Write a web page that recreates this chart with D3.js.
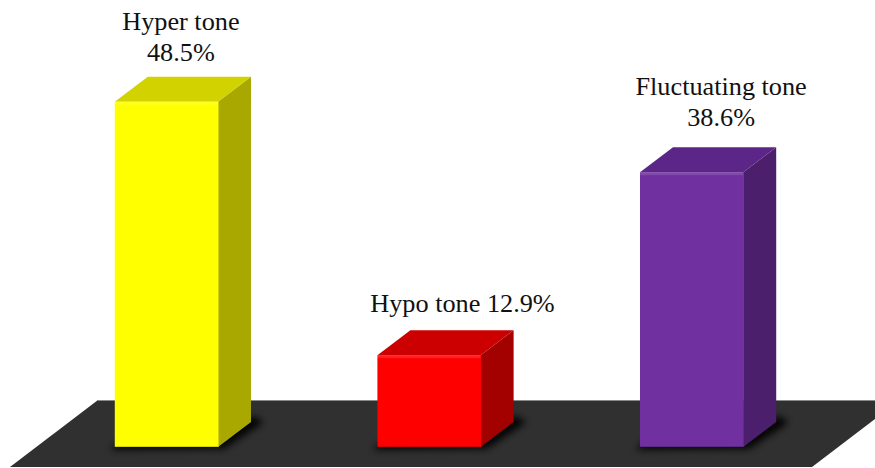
<!DOCTYPE html>
<html>
<head>
<meta charset="utf-8">
<script src="https://cdn.jsdelivr.net/npm/d3@7/dist/d3.min.js"></script>
<style>
  html, body { margin: 0; padding: 0; background: #fff; }
  svg { display: block; }
</style>
</head>
<body>
<div id="chart-area"></div>
<script>
// data
var categories = ['Hyper tone', 'Hypo tone', 'Fluctuating tone'];
var values = [48.5, 12.9, 38.6];
var labelLines = [['Hyper tone', '48.5%'], ['Hypo tone 12.9%'], ['Fluctuating tone', '38.6%']];

// colours: front, top, side
var frontColors = ['#ffff00', '#ff0000', '#7030a0'];
var topColors = ['#d2d200', '#cc0000', '#5b2688'];
var sideColors = ['#a8a800', '#a30000', '#4b1f6c'];

// label nudges (original labels were hand placed)
var labelDx = [-2, 17, 13];
var labelDy = [2, 0, -3];

var svgWidth = 875;
var svgHeight = 468;
var depthX = 33;
var depthY = 25;

var svg = d3.select('#chart-area')
  .append('svg')
  .attr('width', svgWidth)
  .attr('height', svgHeight);

var defs = svg.append('defs');
defs.append('filter')
  .attr('id', 'blur')
  .attr('x', '-50%').attr('y', '-50%')
  .attr('width', '200%').attr('height', '200%')
  .append('feGaussianBlur')
  .attr('stdDeviation', 3.5);

var xScale = d3.scaleBand()
  .domain(categories)
  .range([36, 822])
  .paddingInner(0.607)
  .paddingOuter(0.3);

var yScale = d3.scaleLinear()
  .domain([0, 50])
  .range([447, 91]);

var bw = xScale.bandwidth();
var base = yScale(0);

// floor
var floorTop = base - 47;
var floorBottom = base + 20;
var floorPts = [[98, floorTop], [900, floorTop], [812, floorBottom], [10, floorBottom]];
svg.append('polygon')
  .attr('points', floorPts.map(p => p.join(',')).join(' '))
  .attr('fill', '#303030');
svg.append('line')
  .attr('x1', 98).attr('y1', floorTop + 0.5)
  .attr('x2', 875).attr('y2', floorTop + 0.5)
  .attr('stroke', '#8a8a8a')
  .attr('stroke-width', 1.2);

var data = categories.map((c, i) => ({ cat: c, value: values[i], i: i }));

var bars = svg.selectAll('g.bar').data(data).enter()
  .append('g')
  .attr('class', 'bar');

// shadow on the floor, mostly behind and right of the side face
bars.append('polygon')
  .attr('points', d => {
    var x0 = xScale(d.cat), x1 = x0 + bw;
    return [[x0 - 5, base + 3], [x1 + 6, base + 2], [x1 + depthX + 12, base - depthY + 1],
            [x1 + depthX + 6, base - depthY - 5], [x0 + depthX, base - depthY - 5]]
      .map(p => p.join(',')).join(' ');
  })
  .attr('fill', '#000')
  .attr('opacity', 0.9)
  .attr('filter', 'url(#blur)');

// side face
bars.append('polygon')
  .attr('points', d => {
    var x1 = xScale(d.cat) + bw, top = yScale(d.value);
    return [[x1, top], [x1 + depthX, top - depthY], [x1 + depthX, base - depthY], [x1, base]]
      .map(p => p.join(',')).join(' ');
  })
  .attr('fill', d => sideColors[d.i]);

// top face
bars.append('polygon')
  .attr('points', d => {
    var x0 = xScale(d.cat), x1 = x0 + bw, top = yScale(d.value);
    return [[x0, top], [x0 + depthX, top - depthY], [x1 + depthX, top - depthY], [x1, top]]
      .map(p => p.join(',')).join(' ');
  })
  .attr('fill', d => topColors[d.i]);

// front face
bars.append('rect')
  .attr('x', d => xScale(d.cat))
  .attr('y', d => yScale(d.value))
  .attr('width', bw + 0.5)
  .attr('height', d => base - yScale(d.value))
  .attr('fill', d => frontColors[d.i]);

// bevel highlight on front top edge
bars.append('rect')
  .attr('x', d => xScale(d.cat))
  .attr('y', d => yScale(d.value))
  .attr('width', bw)
  .attr('height', 3)
  .attr('fill', '#fff')
  .attr('opacity', 0.12);

// bottom edge
bars.append('line')
  .attr('x1', d => xScale(d.cat)).attr('y1', base)
  .attr('x2', d => xScale(d.cat) + bw).attr('y2', base)
  .attr('stroke', '#000').attr('stroke-opacity', 0.35);

// labels
var labels = bars.append('text')
  .attr('text-anchor', 'middle')
  .attr('font-family', '"Liberation Serif", "Times New Roman", serif')
  .attr('font-size', 25)
  .attr('fill', '#111')
  .attr('transform', d => {
    var cx = xScale(d.cat) + bw / 2 + depthX / 2 + labelDx[d.i];
    var lines = labelLines[d.i].length;
    var y = yScale(d.value) - depthY - 18 + labelDy[d.i] - (lines - 1) * 31;
    return 'translate(' + cx + ',' + y + ') scale(1.05,1)';
  });

labels.selectAll('tspan')
  .data(d => labelLines[d.i])
  .enter()
  .append('tspan')
  .attr('x', 0)
  .attr('y', (t, j) => j * 31)
  .text(t => t);
</script>
</body>
</html>
